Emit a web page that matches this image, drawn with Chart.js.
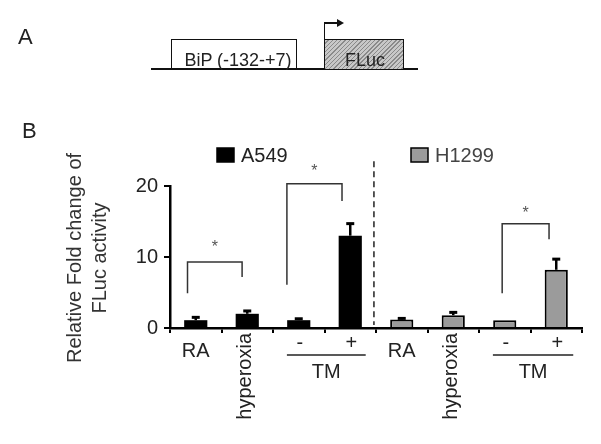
<!DOCTYPE html>
<html>
<head>
<meta charset="utf-8">
<script src="https://cdn.jsdelivr.net/npm/chart.js@4/dist/chart.umd.min.js"></script>
<style>
  html, body { margin:0; padding:0; background:#fff; }
  #wrap { position:relative; width:601px; height:444px; overflow:hidden; font-family:"Liberation Sans", Arial, sans-serif; color:#222; }
  #fig { position:absolute; left:0; top:0; }
  .abs { position:absolute; }
  .panel-letter { font-size:22px; line-height:22px; }
  .box { border:1.5px solid #111; border-bottom:none; box-sizing:border-box; font-size:18px; line-height:18px; text-align:center; }
  .hatch { background:repeating-linear-gradient(135deg, #c8c8c8 0 2px, #8a8a8a 2px 3px); }
</style>
</head>
<body>
<div id="wrap">
  <canvas id="fig" width="601" height="444"></canvas>

  <!-- Panel A: reporter construct -->
  <div class="abs panel-letter" style="left:18px;top:26px">A</div>
  <div class="abs" style="left:151px;top:68px;width:267px;height:1.5px;background:#111"></div>
  <div class="abs box" style="left:171px;top:39px;width:126px;height:30px;padding-top:11px;padding-left:8px">BiP (-132-+7)</div>
  <div class="abs box hatch" style="left:324px;top:39px;width:80px;height:30px;padding-top:11px;padding-left:2px">FLuc</div>
  <div class="abs" style="left:323.5px;top:22px;width:1.5px;height:17px;background:#111"></div>
  <div class="abs" style="left:324px;top:22px;width:13px;height:1.5px;background:#111"></div>
  <div class="abs" style="left:337px;top:18.5px;width:0;height:0;border-top:4px solid transparent;border-bottom:4px solid transparent;border-left:7px solid #111"></div>

  <div class="abs panel-letter" style="left:22px;top:120px">B</div>
</div>

<script>
// ── Data ───────────────────────────────────────────────────
const categories   = ['RA', 'hyperoxia', '-', '+', 'RA', 'hyperoxia', '-', '+'];
const a549Values   = [1.1, 2.0, 1.1, 13.0, null, null, null, null];
const a549Errors   = [0.4, 0.4, 0.2, 1.7, null, null, null, null];
const h1299Values  = [null, null, null, null, 1.2, 1.8, 1.1, 8.2];
const h1299Errors  = [null, null, null, null, 0.15, 0.4, 0, 1.5];
const yTicks       = [0, 10, 20];
const groupNames   = ['TM', 'TM'];
const groupFrom    = [1.77, 5.77];   // category index (fractional) where the TM line starts
const groupTo      = [3.3, 7.33];

// significance brackets (x in category units, y in data units)
const bracketLeft     = [-0.16, 1.77, 5.95];
const bracketRight    = [0.9, 2.84, 6.86];
const bracketTop      = [9.3, 20.3, 14.7];
const bracketLeftEnd  = [4.9, 6.1, 4.9];
const bracketRightEnd = [7.2, 17.9, 12.5];
const starLevel       = [11.7, 22.4, 16.6];

const FONT = '"Liberation Sans", Arial, sans-serif';
const GREY = '#9b9b9b';

// ── Annotation plugin: error bars, brackets, labels, legend ──
const annotate = {
  id: 'annotate',
  afterDatasetsDraw(chart) {
    const ctx = chart.ctx, xs = chart.scales.x, ys = chart.scales.y;
    ctx.save();

    // error bars
    [[a549Values, a549Errors], [h1299Values, h1299Errors]].forEach(([vals, errs]) => {
      vals.forEach((v, i) => {
        if (v === null || !errs[i]) return;
        const x = xs.getPixelForValue(i);
        const y0 = ys.getPixelForValue(v), y1 = ys.getPixelForValue(v + errs[i]);
        ctx.strokeStyle = '#000'; ctx.lineWidth = 2.5;
        ctx.beginPath(); ctx.moveTo(x, y0); ctx.lineTo(x, y1); ctx.stroke();
        ctx.lineWidth = 3;
        ctx.beginPath(); ctx.moveTo(x - 4, y1); ctx.lineTo(x + 4, y1); ctx.stroke();
      });
    });

    // brackets + stars
    ctx.strokeStyle = '#333'; ctx.lineWidth = 1.5;
    bracketLeft.forEach((l, i) => {
      const xl = xs.getPixelForValue(l), xr = xs.getPixelForValue(bracketRight[i]);
      ctx.beginPath();
      ctx.moveTo(xl, ys.getPixelForValue(bracketLeftEnd[i]));
      ctx.lineTo(xl, ys.getPixelForValue(bracketTop[i]));
      ctx.lineTo(xr, ys.getPixelForValue(bracketTop[i]));
      ctx.lineTo(xr, ys.getPixelForValue(bracketRightEnd[i]));
      ctx.stroke();
      ctx.fillStyle = '#555'; ctx.font = `16px ${FONT}`;
      ctx.textAlign = 'center'; ctx.textBaseline = 'middle';
      ctx.fillText('*', (xl + xr) / 2, ys.getPixelForValue(starLevel[i]) + 3);
    });

    // dashed divider between the two cell lines
    ctx.setLineDash([6, 4]); ctx.lineWidth = 1.5; ctx.strokeStyle = '#222';
    const xd = xs.getPixelForValue(3.46);
    ctx.beginPath(); ctx.moveTo(xd, ys.getPixelForValue(23.5)); ctx.lineTo(xd, ys.bottom - 3); ctx.stroke();
    ctx.setLineDash([]);

    // category labels
    const base = ys.bottom;
    ctx.fillStyle = '#222'; ctx.font = `20px ${FONT}`;
    categories.forEach((c, i) => {
      const x = xs.getPixelForValue(i);
      if (c === 'hyperoxia') {
        ctx.save(); ctx.translate(x - 2, base + 5); ctx.rotate(-Math.PI / 2);
        ctx.textAlign = 'right'; ctx.textBaseline = 'middle';
        ctx.fillText(c, 0, 0); ctx.restore();
      } else if (c === 'RA') {
        ctx.textAlign = 'center'; ctx.textBaseline = 'middle';
        ctx.fillText(c, x, base + 23);
      } else {
        ctx.textAlign = 'center'; ctx.textBaseline = 'middle';
        ctx.fillText(c, x + 1, base + 15);
      }
    });

    // TM group lines
    groupNames.forEach((g, i) => {
      const x0 = xs.getPixelForValue(groupFrom[i]), x1 = xs.getPixelForValue(groupTo[i]);
      ctx.strokeStyle = '#222'; ctx.lineWidth = 1.5;
      ctx.beginPath(); ctx.moveTo(x0, base + 27); ctx.lineTo(x1, base + 27); ctx.stroke();
      ctx.textAlign = 'center'; ctx.textBaseline = 'middle';
      ctx.fillText(g, (x0 + x1) / 2, base + 44);
    });

    // y axis title (two lines)
    ctx.save(); ctx.translate(75, 258); ctx.rotate(-Math.PI / 2);
    ctx.textAlign = 'center'; ctx.textBaseline = 'middle'; ctx.fillStyle = '#333';
    ctx.fillText('Relative Fold change of', 0, 0);
    ctx.fillText('FLuc activity', 0, 25);
    ctx.restore();

    // legend
    chart.data.datasets.forEach((ds, i) => {
      const lx = i === 0 ? 217 : 411;
      ctx.fillStyle = ds.backgroundColor; ctx.strokeStyle = '#000'; ctx.lineWidth = 1.5;
      ctx.fillRect(lx, 148, 17, 14); ctx.strokeRect(lx, 148, 17, 14);
      ctx.fillStyle = i === 0 ? '#222' : '#444';
      ctx.textAlign = 'left'; ctx.textBaseline = 'middle';
      ctx.fillText(ds.label, lx + 24, 156);
    });

    ctx.restore();
  }
};

// ── Chart ──────────────────────────────────────────────────
new Chart(document.getElementById('fig'), {
  type: 'bar',
  data: {
    labels: categories,
    datasets: [
      { label: 'A549',  data: a549Values,  backgroundColor: '#000', borderColor: '#000', borderWidth: 0 },
      { label: 'H1299', data: h1299Values, backgroundColor: GREY,   borderColor: '#000', borderWidth: 2 },
    ]
  },
  options: {
    responsive: false, animation: false, devicePixelRatio: 1,
    layout: { padding: { left: 0, top: 186, right: 19, bottom: 0 } },
    datasets: { bar: { grouped: false, categoryPercentage: 1, barPercentage: 0.45, borderSkipped: 'bottom' } },
    plugins: { legend: { display: false }, tooltip: { enabled: false } },
    scales: {
      x: {
        afterFit: s => { s.height = 116; },
        grid: { drawOnChartArea: false, drawTicks: true, tickLength: 5, color: '#000', lineWidth: 2, offset: true },
        border: { display: true, color: '#000', width: 2.5 },
        ticks: { callback: () => '', font: { size: 1 } }
      },
      y: {
        min: 0, max: 20,
        afterFit: s => { s.width = 170; },
        afterBuildTicks: s => { s.ticks = yTicks.map(v => ({ value: v })); },
        grid: { drawOnChartArea: false, drawTicks: true, tickLength: 6, color: '#000', lineWidth: 2 },
        border: { display: true, color: '#000', width: 2.5 },
        ticks: { padding: 6, color: '#222', font: { family: FONT, size: 20 } }
      }
    }
  },
  plugins: [annotate]
});
</script>
</body>
</html>
